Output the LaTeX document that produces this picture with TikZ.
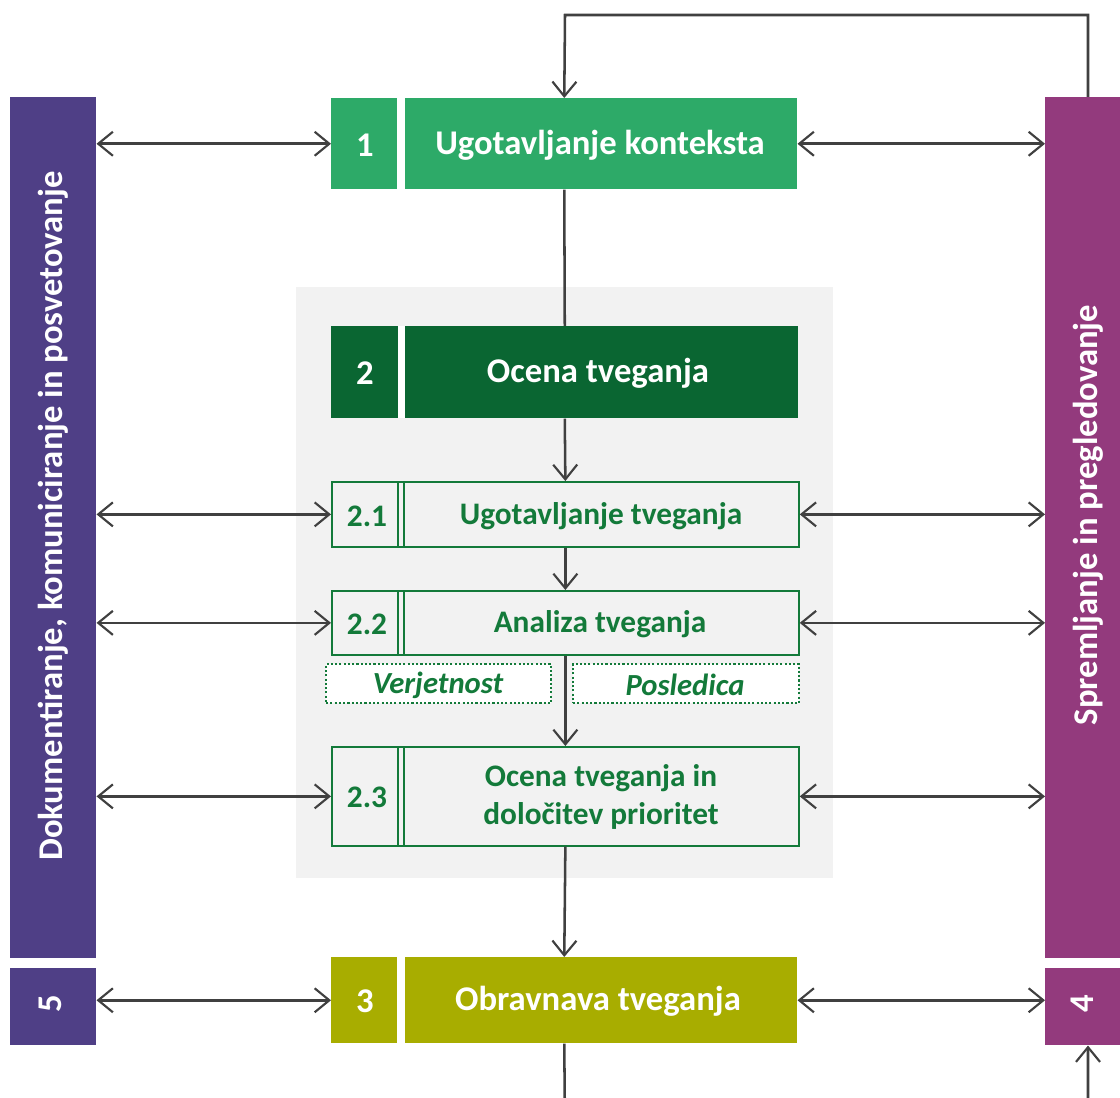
\documentclass[tikz,border=0pt]{standalone}
\usepackage{fontspec}
\setmainfont{Carlito}
\usetikzlibrary{arrows.meta}
\definecolor{cGreen}{HTML}{2DAA68}
\definecolor{cDark}{HTML}{0A6632}
\definecolor{cLine}{HTML}{137A3A}
\definecolor{cOlive}{HTML}{A8AD00}
\definecolor{cPurple}{HTML}{4F3F86}
\definecolor{cMag}{HTML}{933A7D}
\definecolor{cPanel}{HTML}{F2F2F2}
\definecolor{cArrow}{HTML}{404040}
\tikzset{
  blk/.style 2 args={draw=none, inner sep=0pt, anchor=north west,
     minimum width={#1*0.75pt}, minimum height={#2*0.75pt}},
  wtxt/.style={text=white, font=\bfseries\fontsize{26}{30}\selectfont},
  gtxt/.style={text=cLine, font=\bfseries\fontsize{23.5}{28.5}\selectfont, align=center},
  itxt/.style={text=cLine, font=\bfseries\itshape\fontsize{23}{28}\selectfont},
  dotbox/.style={fill=white, draw=cLine, line width=1.6pt, dash pattern=on 1.6pt off 1.6pt},
  conn/.style={draw=cArrow, line width=1.9pt},
  tip/.style={-{Straight Barb[length=11pt,width=18pt,line width=1.6pt]}},
  btip/.style={{Straight Barb[length=11pt,width=18pt,line width=1.6pt]}-{Straight Barb[length=11pt,width=18pt,line width=1.6pt]}},
}
\begin{document}
\begin{tikzpicture}[x=0.75pt,y=-0.75pt]
\useasboundingbox (0,0) rectangle (1120,1098);
\clip (0,0) rectangle (1120,1098);
\fill[white] (0,0) rectangle (1120,1098);
% panel
\node[blk={537}{591}, fill=cPanel] (panel) at (296,287) {};
% side bars
\node[blk={86}{861}, fill=cPurple] (L) at (10,97) {};
\node[rotate=90, wtxt] (Ltxt) at (53,516) {Dokumentiranje, komuniciranje in posvetovanje};
\node[blk={86}{77}, fill=cPurple] (b5) at (10,968) {};
\node[rotate=90, wtxt] (b5txt) at (50,1004) {5};
\node[blk={80}{861}, fill=cMag] (R) at (1045,97) {};
\node[rotate=90, wtxt] (Rtxt) at (1088,515) {Spremljanje in pregledovanje};
\node[blk={80}{77}, fill=cMag] (b4) at (1045,968) {};
\node[rotate=90, wtxt] (b4txt) at (1082,1004) {4};
% box 1
\node[blk={466}{91}, fill=cGreen] (b1) at (331,98) {};
\fill[white] (397,98) rectangle (405,189);
\node[wtxt] (b1num) at (365,145) {1};
\node[wtxt] (b1txt) at (600,145) {Ugotavljanje konteksta};
% box 2
\node[blk={467}{92}, fill=cDark] (b2) at (331,326) {};
\fill[white] (398,326) rectangle (405,418);
\node[wtxt] (b2num) at (365,373) {2};
\node[wtxt] (b2txt) at (598,373) {Ocena tveganja};
% sub boxes
\node[blk={467}{65}, fill=cPanel, draw=cLine, line width=1.3pt] (b21) at (331,481) {};
\draw[cLine, line width=1.2pt] (398,481) -- (398,546) (404,481) -- (404,546);
\node[gtxt] (b21num) at (367,516) {2.1};
\node[gtxt] (b21txt) at (601,516) {Ugotavljanje tveganja};
\node[blk={467}{64}, fill=cPanel, draw=cLine, line width=1.3pt] (b22) at (331,590) {};
\draw[cLine, line width=1.2pt] (398,590) -- (398,654) (404,590) -- (404,654);
\node[gtxt] (b22num) at (367,624) {2.2};
\node[gtxt] (b22txt) at (600,624) {Analiza tveganja};
\node[blk={225}{39}, dotbox] (v) at (325,663) {};
\node[itxt] (vtxt) at (438,685) {Verjetnost};
\node[blk={226}{39}, dotbox] (p) at (572,663) {};
\node[itxt] (ptxt) at (685,685) {Posledica};
\node[blk={467}{99}, fill=cPanel, draw=cLine, line width=1.3pt] (b23) at (331,746) {};
\draw[cLine, line width=1.2pt] (398,746) -- (398,845) (404,746) -- (404,845);
\node[gtxt] (b23num) at (367,797) {2.3};
\node[gtxt] (b23txt) at (601,797) {Ocena tveganja in\\določitev prioritet};
% box 3
\node[blk={466}{86}, fill=cOlive] (b3) at (331,957) {};
\fill[white] (397,957) rectangle (405,1043);
\node[wtxt] (b3num) at (365,1001) {3};
\node[wtxt] (b3txt) at (598,1001) {Obravnava tveganja};
% vertical flow
\coordinate (t1) at (1088,15);
\coordinate (t2) at (565,15);
\draw[conn, tip] (R.north -| t1) -- (t1) -- (t2) -- (b1.north);
\draw[conn] (b1.south) -- (b2.north);
\draw[conn, tip] (b2.south) -- (b21.north);
\draw[conn, tip] (b21.south) -- (b22.north);
\draw[conn, tip] (b22.south) -- (b23.north);
\draw[conn, tip] (b23.south) -- (b3.north);
\coordinate (u1) at (565,1130);
\coordinate (u2) at (1088,1130);
\draw[conn, tip] (b3.south) -- (u1) -- (u2) -- (b4.south -| u2);
% horizontal bidirectional
\draw[conn, btip] (L.east |- b1.west) -- (b1.west);
\draw[conn, btip] (b1.east) -- (R.west |- b1.east);
\draw[conn, btip] (L.east |- b21.west) -- (b21.west);
\draw[conn, btip] (b21.east) -- (R.west |- b21.east);
\draw[conn, btip] (L.east |- b22.west) -- (b22.west);
\draw[conn, btip] (b22.east) -- (R.west |- b22.east);
\draw[conn, btip] (L.east |- b23.west) -- (b23.west);
\draw[conn, btip] (b23.east) -- (R.west |- b23.east);
\draw[conn, btip] (b5.east |- b3.west) -- (b3.west);
\draw[conn, btip] (b3.east) -- (b4.west |- b3.east);
\end{tikzpicture}
\end{document}
